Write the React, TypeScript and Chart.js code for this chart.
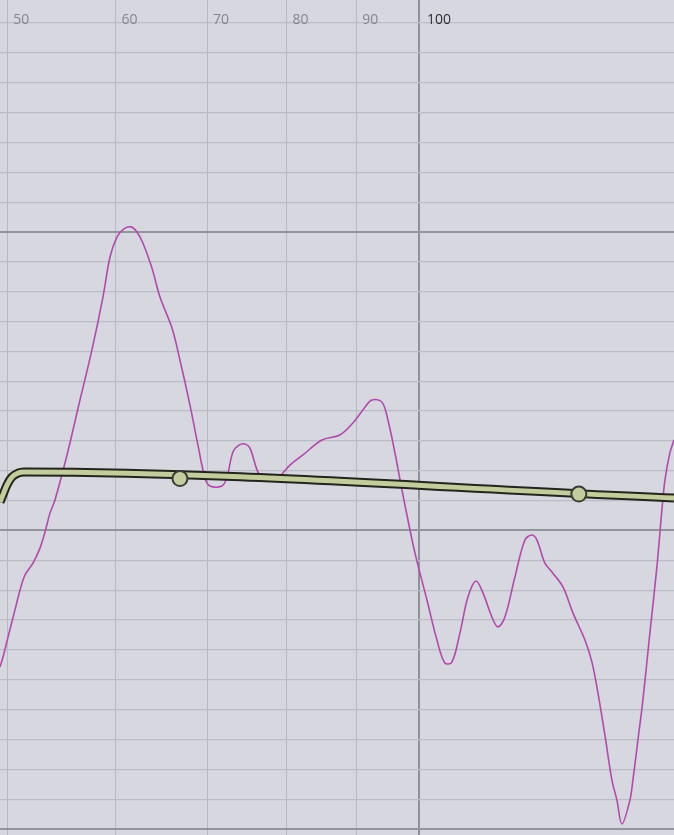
import React, { useEffect, useRef } from "react";
import { Chart, registerables } from "chart.js";

Chart.register(...registerables);

// Frequency axis (Hz, logarithmic) and level axis (dB)
const X_MIN = 49.39;
const X_MAX = 153.65;
const Y_MIN = -10.2;
const Y_MAX = 17.77;
const X_TICKS = [50, 60, 70, 80, 90, 100];
const X_TICK_LABELS = ["50", "60", "70", "80", "90", "100"];
const Y_GRID = [-10, -9, -8, -7, -6, -5, -4, -3, -2, -1, 0, 1, 2, 3, 4, 5, 6, 7, 8, 9, 10, 11, 12, 13, 14, 15, 16, 17];

// Measured response (purple)
const RESP_FREQ = [
  49.39, 49.64, 50.06, 50.65, 51.08, 51.51, 52.21, 52.83, 53.28, 53.73,
  54.18, 55.29, 56.51, 57.66, 58.74, 59.44, 60.14, 60.85, 61.58, 62.2,
  62.83, 63.79, 64.66, 65.98, 66.87, 68.01, 68.93, 69.75, 70.34, 71.77,
  72.38, 73.11, 73.85, 74.6, 75.24, 76.13, 76.77, 77.81, 78.74, 80.48,
  82.26, 84.93, 87.54, 89.48, 91.0, 92.39, 93.96, 94.91, 96.04, 97.18,
  98.0, 99.33, 101.36, 103.08, 104.47, 105.71, 107.15, 108.6, 110.07, 111.38,
  113.08, 114.23, 115.58, 117.54, 119.54, 120.96, 121.98, 123.63, 125.1, 127.44,
  129.6, 132.25, 133.82, 135.18, 136.77, 138.4, 139.57, 140.75, 142.66, 143.38,
  144.59, 145.81, 147.54, 149.29, 150.55, 151.32, 152.59, 153.65,
];
const RESP_LEVEL = [
  -4.57, -4.24, -3.57, -2.66, -2.0, -1.49, -1.09, -0.59, -0.05, 0.59,
  1.02, 2.53, 4.37, 6.05, 7.82, 9.16, 9.83, 10.1, 10.17, 10.0,
  9.63, 8.79, 7.82, 6.78, 5.71, 4.2, 2.86, 1.76, 1.49, 1.49,
  1.79, 2.63, 2.86, 2.9, 2.76, 2.03, 1.76, 1.66, 1.73, 2.19,
  2.53, 3.03, 3.2, 3.6, 4.04, 4.37, 4.3, 3.7, 2.6, 1.36,
  0.52, -0.75, -2.33, -3.67, -4.44, -4.41, -3.43, -2.23, -1.69, -2.09,
  -2.9, -3.23, -2.9, -1.56, -0.32, -0.15, -0.32, -1.09, -1.39, -1.89,
  -2.76, -3.67, -4.41, -5.44, -6.85, -8.36, -9.03, -9.83, -9.03, -8.36,
  -7.02, -5.68, -3.43, -1.22, 0.69, 1.69, 2.6, 3.03,
];

// EQ curve (green)
const EQ_FREQ = [49.39, 49.64, 49.97, 50.39, 50.9, 51.42, 153.65];
const EQ_GAIN = [0.95, 1.2, 1.52, 1.79, 1.92, 1.96, 1.09];
const NODE_FREQ = [66.87, 130.9];
const NODE_GAIN = [1.74, 1.22];

const toPoints = (xs: number[], ys: number[]) => xs.map((x, i) => ({ x, y: ys[i] }));

export default function App() {
  const ref = useRef<HTMLCanvasElement | null>(null);

  useEffect(() => {
    if (!ref.current) return;

    const bgPlugin = {
      id: "bg",
      beforeDraw(chart: any) {
        const { ctx, width, height } = chart;
        ctx.save();
        ctx.fillStyle = "#d6d7df";
        ctx.fillRect(0, 0, width, height);
        ctx.restore();
      },
    };

    const labelPlugin = {
      id: "freqLabels",
      afterDraw(chart: any) {
        const { ctx } = chart;
        const xs = chart.scales.x;
        ctx.save();
        ctx.font = "14px 'Open Sans', sans-serif";
        ctx.textBaseline = "middle";
        ctx.textAlign = "left";
        X_TICKS.forEach((v, i) => {
          const px = xs.getPixelForValue(v);
          ctx.fillStyle = v === 100 ? "#2e2f35" : "#84868f";
          ctx.fillText(X_TICK_LABELS[i], px + (v === 100 ? 8 : 6), 20);
        });
        ctx.restore();
      },
    };

    const chart = new Chart(ref.current, {
      type: "line",
      data: {
        datasets: [
          {
            data: toPoints(NODE_FREQ, NODE_GAIN),
            showLine: false,
            pointRadius: 7.5,
            pointBackgroundColor: "#c3cc9e",
            pointBorderColor: "#3a3c32",
            pointBorderWidth: 2,
            order: 1,
          },
          {
            data: toPoints(EQ_FREQ, EQ_GAIN),
            borderColor: "#c3cc9d",
            borderWidth: 5,
            pointRadius: 0,
            cubicInterpolationMode: "monotone",
            order: 2,
          },
          {
            data: toPoints(EQ_FREQ, EQ_GAIN),
            borderColor: "#23251c",
            borderWidth: 9,
            pointRadius: 0,
            cubicInterpolationMode: "monotone",
            order: 3,
          },
          {
            data: toPoints(RESP_FREQ, RESP_LEVEL),
            borderColor: "#b24aae",
            borderWidth: 1.6,
            pointRadius: 0,
            tension: 0.35,
            order: 4,
          },
        ],
      },
      options: {
        animation: false,
        responsive: false,
        events: [],
        layout: { padding: 0, autoPadding: false },
        plugins: { legend: { display: false }, tooltip: { enabled: false } },
        scales: {
          x: {
            type: "logarithmic",
            min: X_MIN,
            max: X_MAX,
            border: { display: false },
            ticks: { display: false },
            afterBuildTicks: (scale: any) => {
              scale.ticks = X_TICKS.map((v) => ({ value: v }));
            },
            grid: {
              drawTicks: false,
              color: (c: any) => (c.tick && c.tick.value === 100 ? "#8f9199" : "#b5b7c2"),
              lineWidth: (c: any) => (c.tick && c.tick.value === 100 ? 2 : 1),
            },
          },
          y: {
            type: "linear",
            min: Y_MIN,
            max: Y_MAX,
            border: { display: false },
            ticks: { display: false },
            afterBuildTicks: (scale: any) => {
              scale.ticks = Y_GRID.map((v) => ({ value: v }));
            },
            grid: {
              drawTicks: false,
              color: (c: any) => (c.tick && c.tick.value % 10 === 0 ? "#93959e" : "#babcc6"),
              lineWidth: (c: any) => (c.tick && c.tick.value % 10 === 0 ? 2 : 1.2),
            },
          },
        },
      },
      plugins: [bgPlugin, labelPlugin],
    } as any);

    return () => chart.destroy();
  }, []);

  return (
    <div style={{ position: "absolute", left: 0, top: 0, width: 674, height: 835 }}>
      <canvas ref={ref} width={674} height={835} style={{ display: "block" }} />
    </div>
  );
}
